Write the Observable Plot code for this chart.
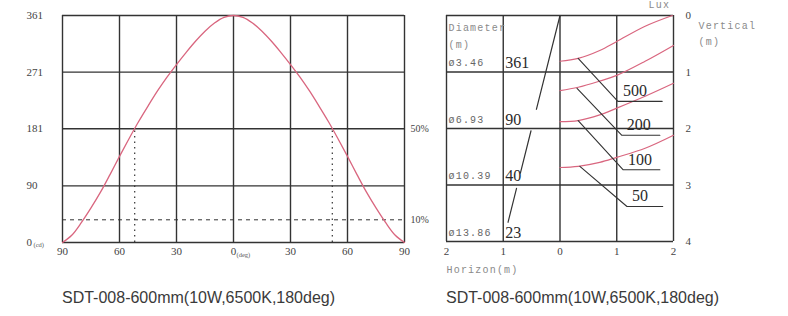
<!DOCTYPE html>
<html><head><meta charset="utf-8">
<script src="https://cdn.jsdelivr.net/npm/d3@7"></script>
<script src="https://cdn.jsdelivr.net/npm/@observablehq/plot@0.6"></script>
<style>
body{margin:0;background:#fff;width:788px;height:316px;overflow:hidden;position:relative;font-family:"Liberation Sans",Arial,sans-serif}
#left{position:absolute;left:0;top:0}
#right{position:absolute;left:400px;top:0}
.cap{position:absolute;top:288px;font-size:16px;line-height:20px;color:#3a3a3a;white-space:nowrap}
</style></head><body>
<div id="left"></div><div id="right"></div>
<div class="cap" id="capL" style="left:62px">SDT-008-600mm(10W,6500K,180deg)</div>
<div class="cap" id="capR" style="left:446px">SDT-008-600mm(10W,6500K,180deg)</div>
<script>
// ---------- Left chart: intensity distribution ----------
const angleDeg = [-90,-85,-80,-75,-70,-65,-60,-55,-50,-45,-40,-35,-30,-25,-20,-15,-10,-5,0,5,10,15,20,25,30,35,40,45,50,55,60,65,70,75,80,85,90];
const intensityCd = [0,12,32,55,80,108,137,165,192,217,241,263,283,302,320,336,349,358,361,358,349,336,320,302,283,263,241,217,192,165,137,108,80,55,32,12,0];
const cdTicks = [0,90,181,271,361];
const cdTickLabels = ["0","90","181","271","361"];
const degTicks = [-90,-60,-30,0,30,60,90];
const degTickLabels = ["90","60","30","0","30","60","90"];
const level50 = 181, level10 = 36.1, halfAngle = 52;

// ---------- Right chart: illuminance ----------
const horizonTicks = [-2,-1,0,1,2];
const horizonLabels = ["2","1","0","1","2"];
const verticalTicks = [0,1,2,3,4];
const diameterLabels = ["ø3.46","ø6.93","ø10.39","ø13.86"];
const centerLux = ["361","90","40","23"];
const rowDepth = [1,2,3,4];
const beamEdge = [[[0,0],[-0.416,1.66]],[[-0.511,2.04],[-0.698,2.79]],[[-0.766,3.06],[-0.916,3.66]]];
const isoLux500 = [[0,0.81],[0.32,0.76],[0.7,0.62],[1.0,0.46],[1.5,0.19],[1.98,0]];
const isoLux200 = [[0,1.33],[0.32,1.27],[0.7,1.16],[1.0,1.06],[1.5,0.81],[2,0.53]];
const isoLux100 = [[0,1.88],[0.32,1.86],[0.7,1.76],[1.0,1.64],[1.5,1.43],[2,1.2]];
const isoLux50 = [[0,2.69],[0.32,2.67],[0.7,2.6],[1.0,2.51],[1.5,2.35],[2,2.12]];
const luxNames = ["500","200","100","50"];
const leaderLines = [
  [[0.32,0.76],[1.02,1.52],[1.80,1.52]],
  [[0.30,1.29],[1.09,2.12],[1.76,2.12]],
  [[0.32,1.86],[1.11,2.73],[1.76,2.73]],
  [[0.35,2.67],[1.18,3.38],[1.81,3.38]]
];

const grid = "#333", pink = "#d9667f", soft = "#8a8a8a";
const serif = "Liberation Serif, Times New Roman, serif";
const mono = "Liberation Mono, DejaVu Sans Mono, monospace";

const curveL = angleDeg.map((a,i)=>({a, v: intensityCd[i]}));

const left = Plot.plot({
  width: 440, height: 280,
  marginLeft: 62, marginRight: 36, marginTop: 15, marginBottom: 38,
  style: {fontFamily: serif, color: "#333", background: "transparent", overflow: "visible"},
  x: {domain: [-90, 90], axis: null},
  y: {domain: [0, 361], axis: null},
  marks: [
    Plot.ruleX(degTicks, {x: d=>d, stroke: grid, strokeWidth: 1.4}),
    Plot.ruleY(cdTicks, {y: d=>d, stroke: grid, strokeWidth: 1.4}),
    Plot.ruleY([level10], {y: d=>d, stroke: "#333", strokeWidth: 1, strokeDasharray: "4,4"}),
    Plot.ruleX([-halfAngle, halfAngle], {x: d=>d, y1: 0, y2: level50, stroke: "#333", strokeWidth: 1.2, strokeDasharray: "1.5,4"}),
    Plot.line(curveL, {x: "a", y: "v", curve: "catmull-rom", stroke: pink, strokeWidth: 1.3}),
    Plot.text(cdTickLabels, {y: (d,i)=>cdTicks[i], text: d=>d, frameAnchor: "left", dx: -36, textAnchor: "start", fontSize: 11, fill: "#444"}),
    Plot.text(["(cd)"], {y: 0, text: d=>d, frameAnchor: "left", dx: -29, dy: 2, textAnchor: "start", fontSize: 6.5, fill: "#555"}),
    Plot.text(degTickLabels, {x: (d,i)=>degTicks[i], text: d=>d, frameAnchor: "bottom", dy: 12, fontSize: 11, fill: "#444"}),
    Plot.text(["(deg)"], {x: 0, text: d=>d, frameAnchor: "bottom", dx: 3, dy: 14, textAnchor: "start", fontSize: 6.5, fill: "#555"}),
    Plot.text(["50%","10%"], {y: (d,i)=>[level50, level10][i], text: d=>d, frameAnchor: "right", dx: 6, textAnchor: "start", fontSize: 10, fill: "#444"})
  ]
});
document.getElementById("left").appendChild(left);

const isoSeries = [isoLux500, isoLux200, isoLux100, isoLux50].flatMap((pts, k)=>pts.map(p=>({x:p[0], y:p[1], lux: luxNames[k]})));
const edgeSeries = beamEdge.flatMap((seg,k)=>seg.map(p=>({x:p[0], y:p[1], k})));
const leaderSeries = leaderLines.flatMap((seg,k)=>seg.map(p=>({x:p[0], y:p[1], k})));

const right = Plot.plot({
  width: 388, height: 280,
  marginLeft: 46, marginRight: 115, marginTop: 15, marginBottom: 39,
  style: {fontFamily: serif, color: "#333", background: "transparent", overflow: "visible"},
  x: {domain: [-2, 2], axis: null},
  y: {domain: [0, 4], reverse: true, axis: null},
  marks: [
    Plot.ruleX(horizonTicks, {x: d=>d, stroke: grid, strokeWidth: 1.4}),
    Plot.ruleY(verticalTicks, {y: d=>d, stroke: grid, strokeWidth: 1.4}),
    Plot.line(isoSeries, {x: "x", y: "y", z: "lux", curve: "catmull-rom", stroke: pink, strokeWidth: 1.2}),
    Plot.line(edgeSeries, {x: "x", y: "y", z: "k", stroke: "#333", strokeWidth: 1.2}),
    Plot.line(leaderSeries, {x: "x", y: "y", z: "k", stroke: "#333", strokeWidth: 1.1}),
    Plot.text(luxNames, {x: (d,i)=>leaderLines[i][1][0], y: (d,i)=>leaderLines[i][1][1], text: d=>d,
      textAnchor: "start", lineAnchor: "bottom", dx: 5, dy: -5, fontSize: 16, fill: "#2a2a2a"}),
    Plot.text(diameterLabels, {x: -2, y: (d,i)=>rowDepth[i], text: d=>d, textAnchor: "start", lineAnchor: "bottom",
      dx: 2, dy: -6, fontSize: 10, fontFamily: mono, fill: "#666"}),
    Plot.text(centerLux, {x: -1, y: (d,i)=>rowDepth[i], text: d=>d, textAnchor: "start", lineAnchor: "bottom",
      dx: 2, dy: -4, fontSize: 16, fill: "#2a2a2a"}),
    Plot.text(["Diameter\n(m)"], {text: d=>d, frameAnchor: "top-left", textAnchor: "start", lineAnchor: "top", dx: 2, dy: 3,
      fontSize: 10, fontFamily: mono, lineHeight: 1.7, fill: soft}),
    Plot.text(horizonLabels, {x: (d,i)=>horizonTicks[i], text: d=>d, frameAnchor: "bottom", dy: 13, fontSize: 11, fill: "#444"}),
    Plot.text(verticalTicks.map(String), {y: (d,i)=>verticalTicks[i], text: d=>d, frameAnchor: "right", dx: 12, textAnchor: "start", fontSize: 11, fill: "#444"}),
    Plot.text(["Vertical\n(m)"], {text: d=>d, frameAnchor: "top-right", textAnchor: "start", lineAnchor: "top", dx: 25, dy: 2,
      fontSize: 10, fontFamily: mono, lineHeight: 1.6, fill: soft}),
    Plot.text(["Lux"], {text: d=>d, frameAnchor: "top-right", textAnchor: "start", lineAnchor: "top", dx: -25, dy: -15,
      fontSize: 10, fontFamily: mono, fill: soft}),
    Plot.text(["Horizon(m)"], {text: d=>d, frameAnchor: "bottom-left", textAnchor: "start", lineAnchor: "top", dy: 24,
      fontSize: 10, fontFamily: mono, fill: soft})
  ]
});
document.getElementById("right").appendChild(right);
d3.select(right).selectAll('g[font-family^="Liberation Mono"]').style("letter-spacing", "1.2px");
</script>
</body></html>
